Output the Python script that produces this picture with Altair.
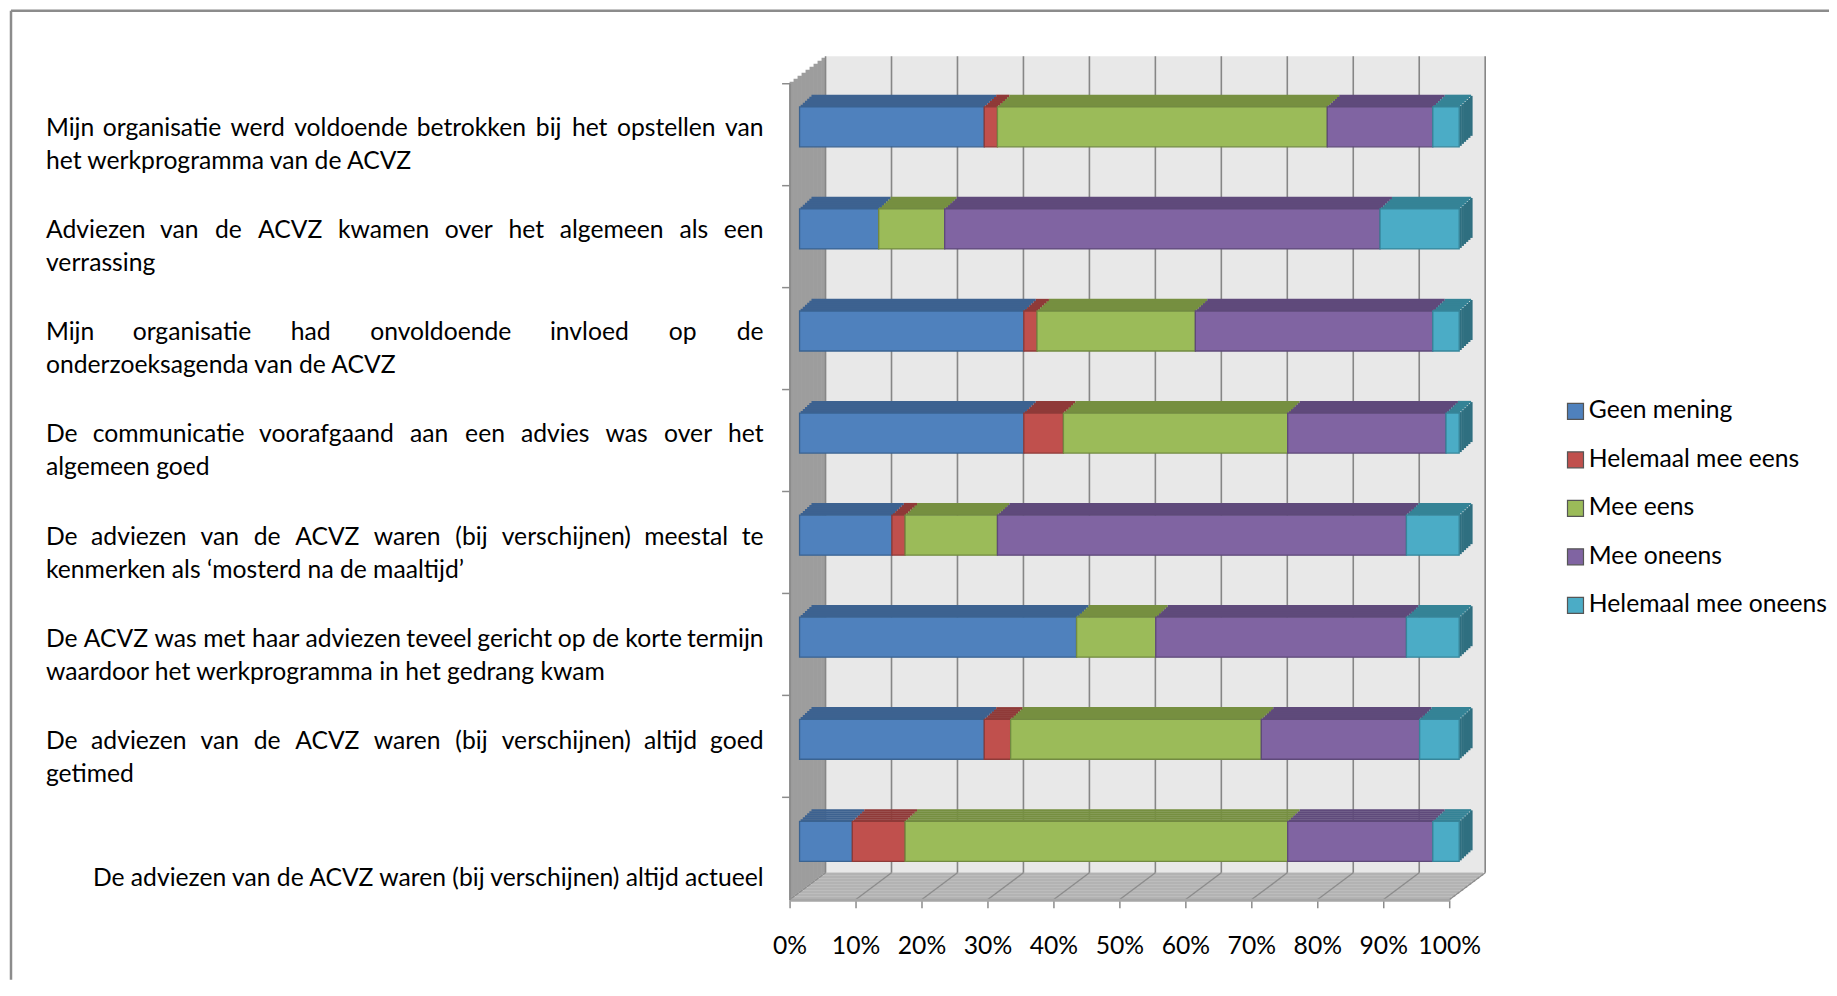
import altair as alt
import pandas as pd

# ---------------- data ----------------
questions = [
    "Mijn organisatie werd voldoende betrokken bij het opstellen van het werkprogramma van de ACVZ",
    "Adviezen van de ACVZ kwamen over het algemeen als een verrassing",
    "Mijn organisatie had onvoldoende invloed op de onderzoeksagenda van de ACVZ",
    "De communicatie voorafgaand aan een advies was over het algemeen goed",
    "De adviezen van de ACVZ waren (bij verschijnen) meestal te kenmerken als ‘mosterd na de maaltijd’",
    "De ACVZ was met haar adviezen teveel gericht op de korte termijn waardoor het werkprogramma in het gedrang kwam",
    "De adviezen van de ACVZ waren (bij verschijnen) altijd goed getimed",
    "De adviezen van de ACVZ waren (bij verschijnen) altijd actueel",
]
label_line1 = [
    "Mijn organisatie werd voldoende betrokken bij het opstellen van",
    "Adviezen van de ACVZ kwamen over het algemeen als een",
    "Mijn organisatie had onvoldoende invloed op de",
    "De communicatie voorafgaand aan een advies was over het",
    "De adviezen van de ACVZ waren (bij verschijnen) meestal te",
    "De ACVZ was met haar adviezen teveel gericht op de korte termijn",
    "De adviezen van de ACVZ waren (bij verschijnen) altijd goed",
    "",
]
label_line2 = [
    "het werkprogramma van de ACVZ",
    "verrassing",
    "onderzoeksagenda van de ACVZ",
    "algemeen goed",
    "kenmerken als ‘mosterd na de maaltijd’",
    "waardoor het werkprogramma in het gedrang kwam",
    "getimed",
    "De adviezen van de ACVZ waren (bij verschijnen) altijd actueel",
]
series = ["Geen mening", "Helemaal mee eens", "Mee eens", "Mee oneens", "Helemaal mee oneens"]
geen_mening = [28, 12, 34, 34, 14, 42, 28, 8]
helemaal_mee_eens = [2, 0, 2, 6, 2, 0, 4, 8]
mee_eens = [50, 10, 24, 34, 14, 12, 38, 58]
mee_oneens = [16, 66, 36, 24, 62, 38, 24, 22]
helemaal_mee_oneens = [4, 12, 4, 2, 8, 8, 6, 4]
x_ticks = list(range(0, 101, 10))

front_colors = ["#4f81bd", "#c0504d", "#9bbb59", "#8064a2", "#4bacc6"]
border_colors = ["#3a6391", "#8e3a38", "#728a41", "#5e4979", "#36859a"]
top_colors = ["#3d6290", "#8f3a38", "#768f40", "#5f4a7b", "#358396"]
end_color = "#2f6f80"

# ---------------- geometry (pixels) ----------------
W, H = 660, 817
DX, DY = 36, 27        # depth of the 3D box
BX, BY = 10, 7.4       # bar plane offset from front plane
BAR_H = 40
TX, TY = 13, 12        # bar depth
FONT = "Lato"
FS = 24.7
TEXT_LEFT, TEXT_RIGHT = -744, -26   # label block edges, px from plot left
PAD_R, PAD_B = 380, 80

values = [geen_mening, helemaal_mee_eens, mee_eens, mee_oneens, helemaal_mee_oneens]
rows = []
for qi, q in enumerate(questions):
    start = 0
    for si, s in enumerate(series):
        v = values[si][qi]
        rows.append(dict(question=q, series=s, order=si, value=v, start=start, end=start + v,
                         top_color=top_colors[si], border_color=border_colors[si]))
        start += v
df = pd.DataFrame(rows)
df_lab = pd.DataFrame(dict(question=questions, line1=label_line1, line2=label_line2))
df_ticks = pd.DataFrame(dict(tick=x_ticks))
df_one = pd.DataFrame(dict(k=[0]))

# approximate glyph advance widths (em) used to justify the first label lines
_w = dict(a=.50, b=.55, c=.45, d=.55, e=.51, f=.31, g=.50, h=.55, i=.23, j=.23, k=.49, l=.23,
          m=.83, n=.55, o=.55, p=.55, q=.55, r=.35, s=.42, t=.34, u=.55, v=.49, w=.75, x=.48,
          y=.49, z=.45, A=.66, C=.66, D=.74, M=.89, V=.66, Z=.60, H=.74)
_w.update({" ": .19, "(": .30, ")": .30, "‘": .20, "’": .20})


def text_w(s):
    return sum(_w.get(c, .5) for c in s) * FS


def px_to_x(px):
    return px / W * 100.0


word_rows = []
for qi, line in enumerate(label_line1):
    words = line.split()
    if len(words) < 2:
        continue
    ws = [text_w(wd) for wd in words]
    gap = (TEXT_RIGHT - TEXT_LEFT - sum(ws)) / (len(words) - 1)
    pos = TEXT_LEFT
    for i, (wd, ww) in enumerate(zip(words, ws)):
        if i == 0:
            kind, p = "left", pos
        elif i == len(words) - 1:
            kind, p = "right", TEXT_RIGHT
        else:
            kind, p = "center", pos + ww / 2
        word_rows.append(dict(question=questions[qi], word=wd, kind=kind, xpos=px_to_x(p)))
        pos += ww + gap
df_words = pd.DataFrame(word_rows)

xscale = alt.Scale(domain=[0, 100], nice=False, zero=True)
xaxis = alt.Axis(values=x_ticks, labelExpr="datum.value + '%'", title=None, grid=False,
                 tickSize=8, tickColor="#8c8c8c", tickWidth=1.5,
                 domainColor="#a6a6a6", domainWidth=3,
                 labelFontSize=FS, labelColor="#000000", labelPadding=26,
                 labelFlush=False, zindex=1)
yscale = alt.Scale(domain=questions, paddingInner=0, paddingOuter=0)
yaxis = alt.Axis(labels=False, title=None, grid=False, bandPosition=0,
                 tickSize=8, tickColor="#8c8c8c", tickWidth=1.5,
                 domainColor="#8c8c8c", domainWidth=2, zindex=1)


def X(field=None, datum=None):
    if field is not None:
        return alt.X(field, scale=xscale, axis=xaxis)
    return alt.X(datum=datum, scale=xscale, axis=xaxis)


def Y():
    return alt.Y("question:N", scale=yscale, axis=yaxis, sort=questions)


layers = []

# back wall
layers.append(alt.Chart(df_one).mark_rect(color="#e8e8e8", xOffset=DX, x2Offset=DX,
                                          yOffset=-DY, y2Offset=-DY).encode(
    x=X(datum=0), x2=alt.X2(datum=100), y=alt.value(0), y2=alt.value(H)))

# left wall (stepped parallelogram)
NW = 9
for j in range(NW):
    layers.append(alt.Chart(df_one).mark_rect(
        color="#9d9d9d", xOffset=DX * j / NW, x2Offset=DX * (j + 1) / NW + 0.4,
        yOffset=-DY * (j + 0.5) / NW, y2Offset=-DY * (j + 0.5) / NW).encode(
        x=X(datum=0), x2=alt.X2(datum=0), y=alt.value(0), y2=alt.value(H)))

# floor (stepped parallelogram)
NF = 9
for k in range(NF):
    layers.append(alt.Chart(df_one).mark_rect(
        color="#b3b3b3", xOffset=DX * (k + 0.5) / NF, x2Offset=DX * (k + 0.5) / NF).encode(
        x=X(datum=0), x2=alt.X2(datum=100),
        y=alt.value(H - DY * (k + 1) / NF - 0.3), y2=alt.value(H - DY * k / NF)))

# back wall gridlines
layers.append(alt.Chart(df_ticks).mark_rule(color="#868686", strokeWidth=1.6, xOffset=DX,
                                            yOffset=-DY, y2Offset=-DY).encode(
    x=X("tick:Q"), y=alt.value(0), y2=alt.value(H)))
# floor gridlines
layers.append(alt.Chart(df_ticks).mark_rule(color="#8c8c8c", strokeWidth=1.4, x2Offset=DX).encode(
    x=X("tick:Q"), x2=alt.X2("tick:Q"), y=alt.value(H), y2=alt.value(H - DY)))

# bar end faces (stepped)
NE = 6
for j in range(NE):
    layers.append(alt.Chart(df_lab).mark_bar(
        color=end_color, height=BAR_H, strokeWidth=0,
        yOffset=-BY - TY * (j + 0.5) / NE,
        xOffset=BX + TX * j / NE, x2Offset=BX + TX * (j + 1) / NE + 0.4).encode(
        x=X(datum=100), x2=alt.X2(datum=100), y=Y()))

# bar top faces (stepped)
NT = 6
for k in range(NT):
    layers.append(alt.Chart(df).mark_bar(
        height=TY / NT + 0.4, strokeWidth=0,
        yOffset=-BY - BAR_H / 2 - TY * (k + 0.5) / NT,
        xOffset=BX + TX * (k + 0.5) / NT, x2Offset=BX + TX * (k + 0.5) / NT).encode(
        x=X("start:Q"), x2=alt.X2("end:Q"), y=Y(),
        fill=alt.Fill("top_color:N", scale=None)))

# bar front faces
layers.append(alt.Chart(df).mark_bar(
    height=BAR_H, yOffset=-BY, xOffset=BX, x2Offset=BX, strokeWidth=1.3).encode(
    x=X("start:Q"), x2=alt.X2("end:Q"), y=Y(),
    color=alt.Color("series:N", scale=alt.Scale(domain=series, range=front_colors),
                    legend=alt.Legend(title=None, orient="none", legendX=774, legendY=316,
                                      symbolType="square", symbolSize=256,
                                      symbolStrokeColor="#555555", symbolStrokeWidth=1.2,
                                      labelFontSize=FS, labelColor="#000000", labelFont=FONT,
                                      labelOffset=1, rowPadding=22.5, padding=0,
                                      labelLimit=400)),
    stroke=alt.Stroke("border_color:N", scale=None),
    order=alt.Order("order:Q")))

# question labels: justified first lines, word by word
for kind in ["left", "center", "right"]:
    layers.append(alt.Chart(df_words[df_words["kind"] == kind]).mark_text(
        align=kind, baseline="middle", dy=-5, fontSize=FS, color="#000000").encode(
        y=Y(), x=X("xpos:Q"), text="word:N"))
# last lines
layers.append(alt.Chart(df_lab.iloc[:7]).mark_text(
    align="left", baseline="middle", dy=28, fontSize=FS, color="#000000").encode(
    y=Y(), x=alt.value(TEXT_LEFT), text="line2:N"))
layers.append(alt.Chart(df_lab.iloc[7:]).mark_text(
    align="right", baseline="middle", dy=30, fontSize=FS, color="#000000").encode(
    y=Y(), x=alt.value(TEXT_RIGHT), text="line2:N"))

# outer frame
layers.append(alt.Chart(df_one).mark_rule(color="#8c8c8c", strokeWidth=2.5).encode(
    x=alt.value(-779), x2=alt.value(W + PAD_R), y=alt.value(-72.5)))
layers.append(alt.Chart(df_one).mark_rule(color="#8c8c8c", strokeWidth=2.5).encode(
    x=alt.value(-779), y=alt.value(-72.5), y2=alt.value(H + PAD_B)))

chart = alt.layer(*layers).properties(
    width=W, height=H,
    padding={"left": 782, "top": 75, "right": PAD_R, "bottom": PAD_B},
    autosize=alt.AutoSizeParams(type="none"),
).configure(font=FONT).configure_view(strokeWidth=0)

chart.save("out.html", embed_options={"renderer": "svg", "actions": False})
